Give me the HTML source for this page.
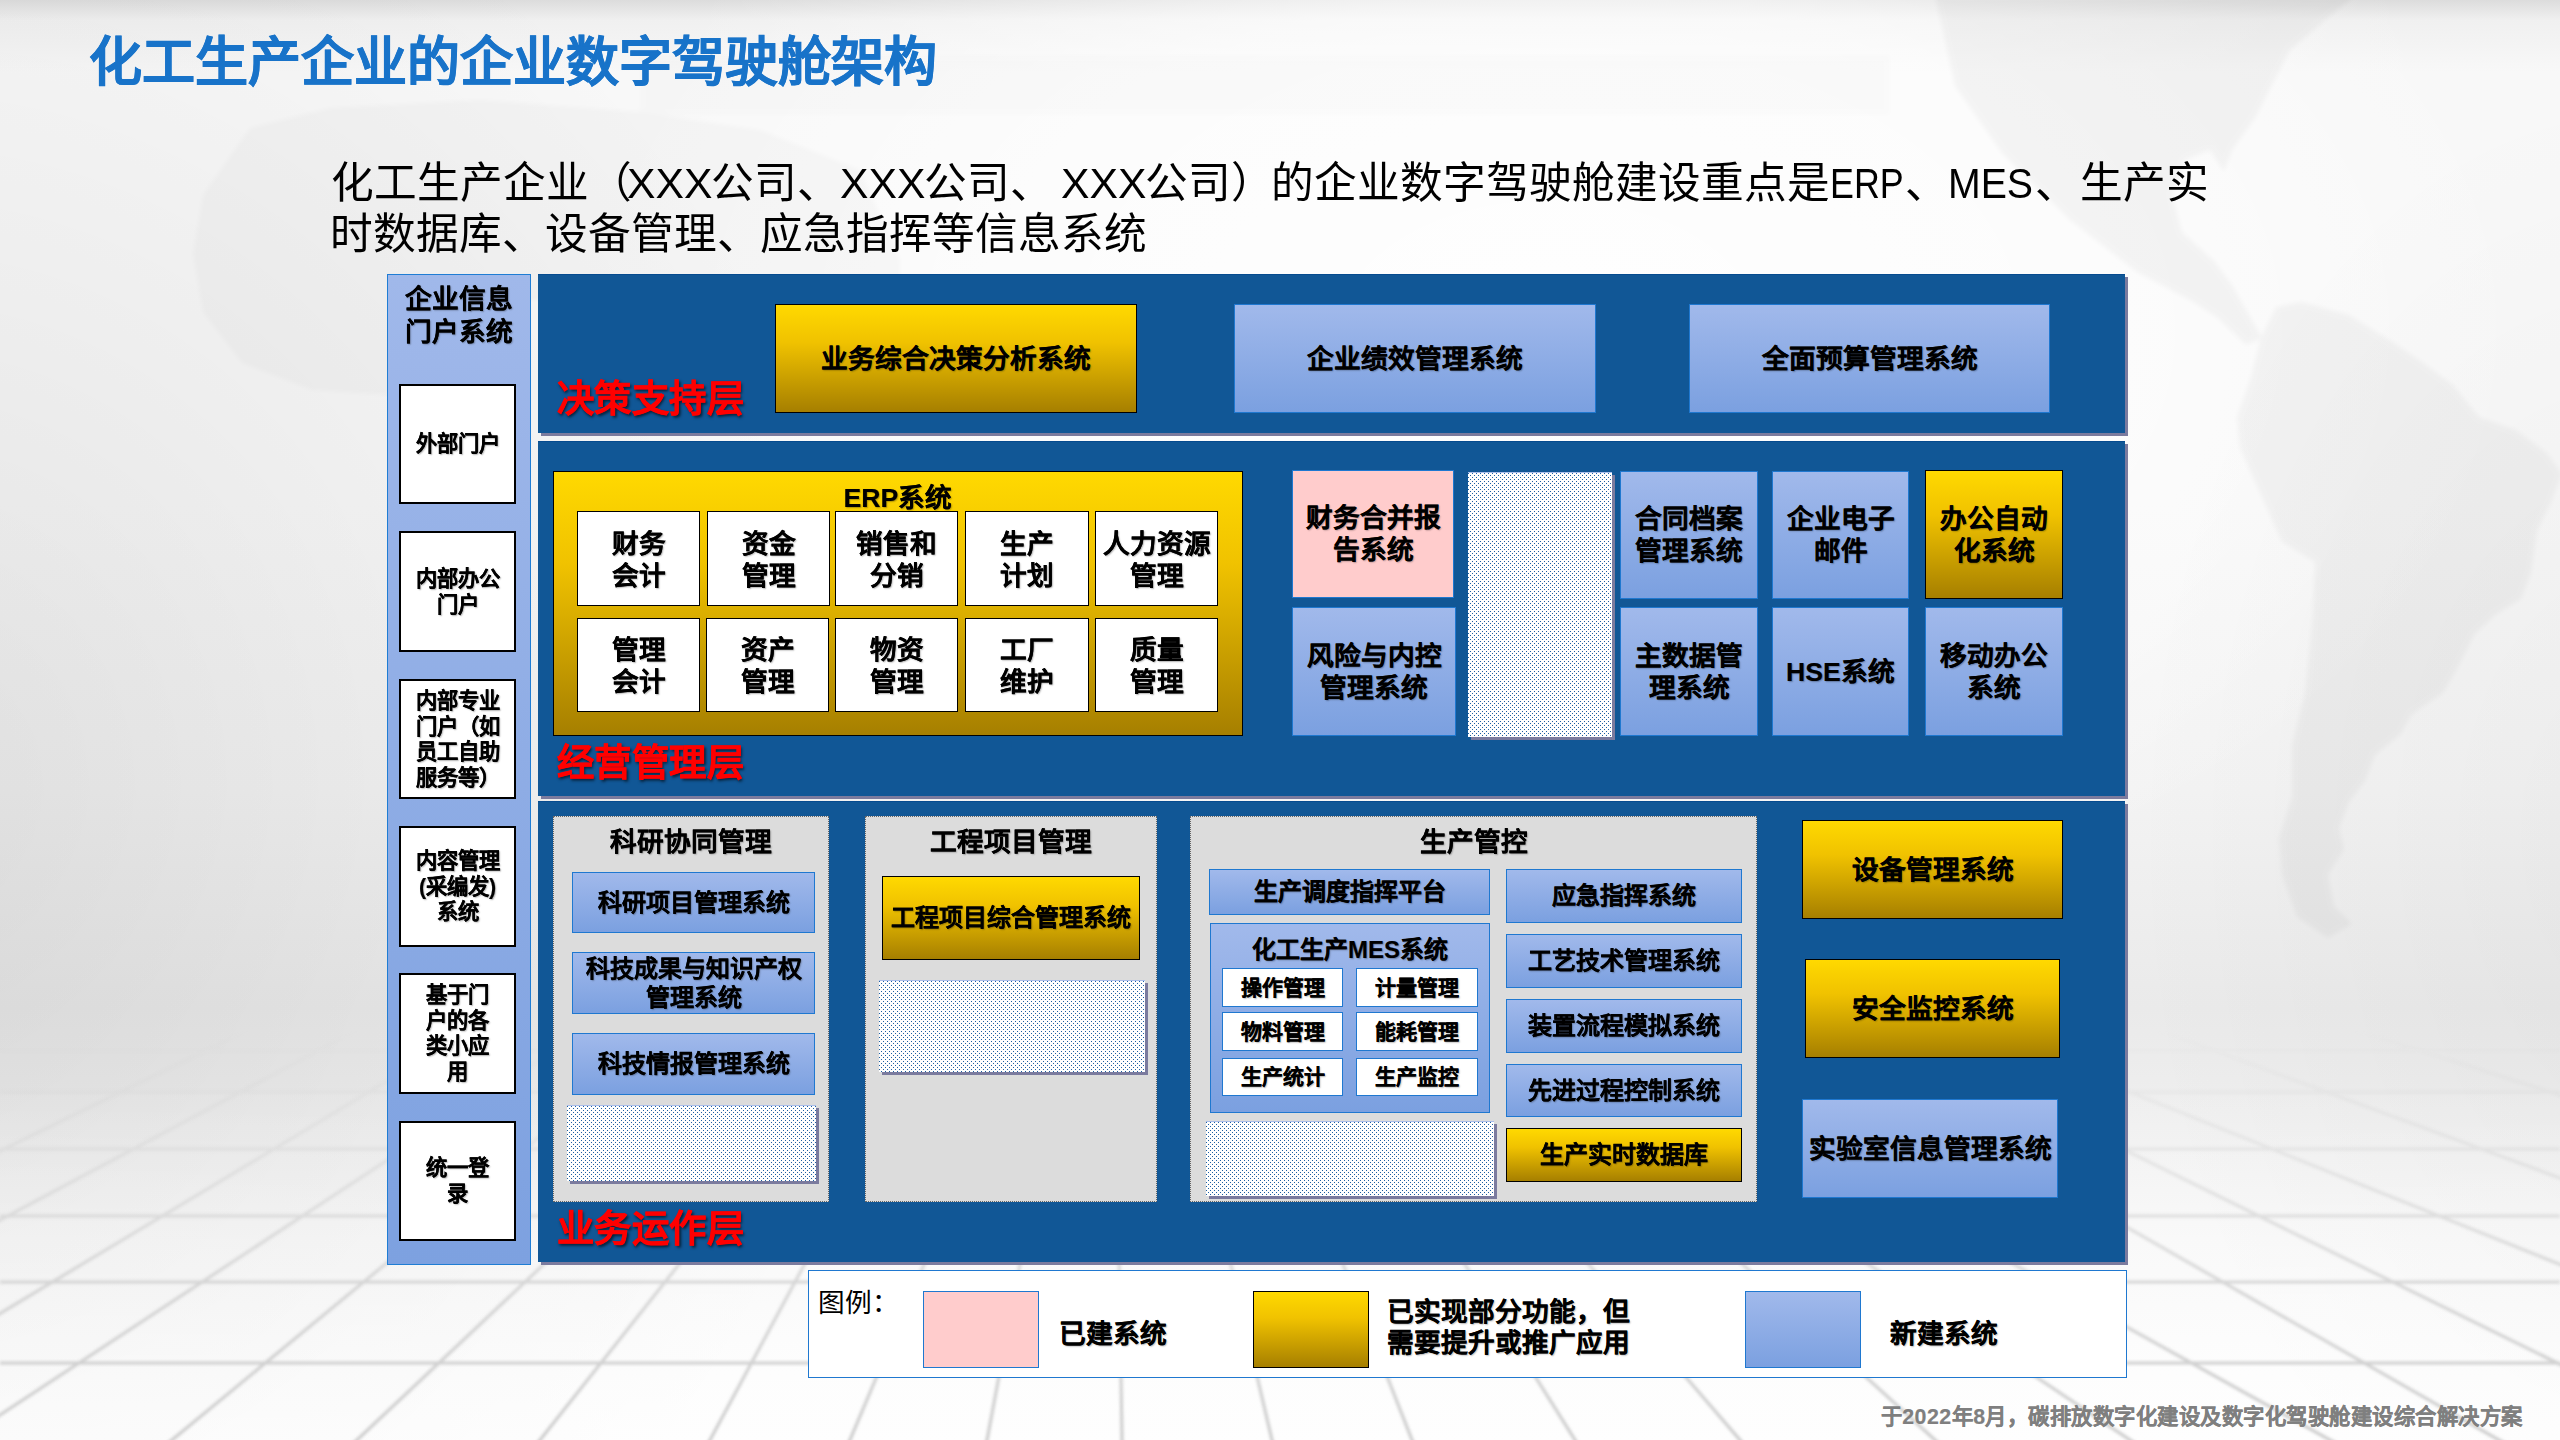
<!DOCTYPE html><html lang="zh-CN"><head><meta charset="utf-8"><title>slide</title><style>
*{margin:0;padding:0;box-sizing:border-box}
html,body{width:2560px;height:1440px;overflow:hidden}
body{position:relative;font-family:"Liberation Sans",sans-serif;color:#000;background:#f2f2f2}
#bg{position:absolute;left:0;top:0;width:2560px;height:1440px;z-index:0}
.b{position:absolute;display:flex;align-items:center;justify-content:center;text-align:center;font-weight:bold;font-size:26.67px;line-height:32px;text-shadow:1px 1px 1.5px rgba(0,0,0,.3);-webkit-text-stroke:.15px #000}
.t{position:absolute;font-weight:bold;white-space:nowrap;text-shadow:1px 1px 1.5px rgba(0,0,0,.3);-webkit-text-stroke:.15px #000}
.panel{background:#115796;border-top:1px solid #064b8f;box-shadow:3px 3px 0 #7b7b9e}
.side{background:linear-gradient(#a0b8ea,#7da1e0);border:1px solid #1f7dd4}
.wb{background:#fff;border:2px solid #000}
.wc{background:#fff;border:1px solid #000}
.wm{background:#fff;border:1px solid #1f78d0}
.y{background:linear-gradient(#ffd900,#f0c200 35%,#a67f00);border:1px solid #000}
.bl{background:linear-gradient(#a1b9eb,#7ba0e0);border:1px solid #1f78d0}
.pk{background:#ffcccc;border:1px solid #1f78d0}
.g{background:#dcdcdc;border:1px dotted #666}
.dot{position:absolute;display:block;box-shadow:3px 3px 0 #7b7b9e}
.sub{font-size:42.67px;line-height:52px;font-weight:normal;text-shadow:none;-webkit-text-stroke:0}
.sub i{display:inline-block;font-style:normal;white-space:pre}
.sub u{display:inline-block;text-decoration:none;transform-origin:0 50%}
.red{color:#ff0000;font-size:37.33px;letter-spacing:.6px;text-shadow:1.5px 1.5px 3px rgba(0,0,0,.65);-webkit-text-stroke:.5px #f00}
</style></head><body>
<svg id="bg" width="2560" height="1440" viewBox="0 0 2560 1440"><defs><linearGradient id="vg" x1="0" y1="0" x2="0" y2="1"><stop offset="0" stop-color="#dcdcdc"/><stop offset="0.014" stop-color="#f0f0f0"/><stop offset="0.05" stop-color="#f8f8f8"/><stop offset="0.35" stop-color="#f8f8f8"/><stop offset="0.55" stop-color="#f3f3f3"/><stop offset="0.70" stop-color="#eaeaea"/><stop offset="0.75" stop-color="#ededed"/><stop offset="0.86" stop-color="#f7f7f7"/><stop offset="1" stop-color="#fdfdfd"/></linearGradient><radialGradient id="rg" gradientUnits="userSpaceOnUse" cx="1550" cy="330" r="1000" gradientTransform="translate(1550 330) scale(1 0.62) translate(-1550 -330)"><stop offset="0" stop-color="#fff" stop-opacity=".9"/><stop offset="0.55" stop-color="#fff" stop-opacity=".6"/><stop offset="1" stop-color="#fff" stop-opacity="0"/></radialGradient><radialGradient id="dl" gradientUnits="userSpaceOnUse" cx="-100" cy="800" r="1000" gradientTransform="translate(-100 800) scale(1 1.05) translate(100 -800)"><stop offset="0" stop-color="#000" stop-opacity=".085"/><stop offset="0.5" stop-color="#000" stop-opacity=".04"/><stop offset="1" stop-color="#000" stop-opacity="0"/></radialGradient><radialGradient id="dr" gradientUnits="userSpaceOnUse" cx="2640" cy="850" r="520" gradientTransform="translate(2640 850) scale(1 1.5) translate(-2640 -850)"><stop offset="0" stop-color="#000" stop-opacity=".035"/><stop offset="1" stop-color="#000" stop-opacity="0"/></radialGradient><linearGradient id="fm" x1="0" y1="1030" x2="0" y2="1440" gradientUnits="userSpaceOnUse"><stop offset="0" stop-color="#fff" stop-opacity="0"/><stop offset="0.3" stop-color="#fff" stop-opacity=".35"/><stop offset="0.65" stop-color="#fff" stop-opacity=".8"/><stop offset="1" stop-color="#fff" stop-opacity="1"/></linearGradient><linearGradient id="fl" x1="0" y1="1080" x2="0" y2="1440" gradientUnits="userSpaceOnUse"><stop offset="0" stop-color="#fff" stop-opacity="0"/><stop offset="1" stop-color="#fff" stop-opacity=".6"/></linearGradient><mask id="mk" maskUnits="userSpaceOnUse" x="0" y="1000" width="2560" height="440"><rect x="0" y="1000" width="2560" height="440" fill="url(#fm)"/></mask><filter id="bl1" x="-5%" y="-5%" width="110%" height="110%"><feGaussianBlur stdDeviation="1.4"/></filter><filter id="bl2" x="-20%" y="-20%" width="140%" height="140%"><feGaussianBlur stdDeviation="2.5"/></filter></defs><rect width="2560" height="1440" fill="url(#vg)"/><rect width="2560" height="1100" fill="url(#rg)"/><rect width="2560" height="1440" fill="url(#dl)"/><rect width="2560" height="1440" fill="url(#dr)"/><g fill="#000" opacity=".032" filter="url(#bl2)"><path d="M2261 338 L2276 307 L2302 302 L2349 315 L2391 341 L2422 362 L2453 385 L2479 417 L2516 430 L2547 453 L2562 474 L2552 500 L2537 531 L2531 573 L2521 599 L2495 615 L2474 635 L2458 667 L2443 693 L2412 714 L2401 734 L2375 755 L2365 781 L2349 802 L2339 828 L2344 849 L2328 875 L2334 906 L2352 924 L2328 938 L2297 917 L2282 875 L2279 838 L2292 797 L2292 745 L2305 693 L2313 614 L2315 562 L2282 542 L2261 495 L2240 448 L2237 417 L2250 380 Z"/><path d="M1935 -5 L2355 -5 L2290 50 L2255 118 L2232 150 L2224 172 L2210 150 L2185 160 L2172 195 L2182 232 L2215 262 L2232 285 L2262 338 L2246 345 L2218 318 L2190 300 L2137 272 L2070 220 L2002 153 L1955 86 Z"/></g><g fill="#000" opacity=".022" filter="url(#bl2)"><path d="M250 128 L330 108 L480 100 L640 112 L760 130 L860 170 L900 260 L900 300 L390 300 L390 395 L312 390 L242 363 L203 312 L193 254 L203 195 Z"/><rect x="640" y="55" width="1250" height="60" opacity=".5"/></g><rect x="0" y="1080" width="2560" height="360" fill="url(#fl)"/><g mask="url(#mk)"><g stroke="#c9c9c9" stroke-width="3" filter="url(#bl1)" fill="none"><line x1="288.9" y1="1010" x2="-653.7" y2="1470"/><line x1="394.2" y1="1010" x2="-469.2" y2="1470"/><line x1="505.4" y1="1010" x2="-260.8" y2="1470"/><line x1="615.6" y1="1010" x2="-83.8" y2="1470"/><line x1="693.5" y1="1010" x2="135.6" y2="1470"/><line x1="814.2" y1="1010" x2="325.1" y2="1470"/><line x1="880.2" y1="1010" x2="516.3" y2="1470"/><line x1="941.3" y1="1010" x2="693.9" y2="1470"/><line x1="1031.5" y1="1010" x2="837.3" y2="1470"/><line x1="1067.6" y1="1010" x2="981.4" y2="1470"/><line x1="1115.2" y1="1010" x2="1122.5" y2="1470"/><line x1="1171.3" y1="1010" x2="1279.0" y2="1470"/><line x1="1243.3" y1="1010" x2="1423.8" y2="1470"/><line x1="1305.6" y1="1010" x2="1593.8" y2="1470"/><line x1="1369.9" y1="1010" x2="1765.8" y2="1470"/><line x1="1464.2" y1="1010" x2="1967.8" y2="1470"/><line x1="1490.4" y1="1010" x2="2174.6" y2="1470"/><line x1="1557.1" y1="1010" x2="2383.9" y2="1470"/><line x1="1747.2" y1="1010" x2="2551.3" y2="1470"/><line x1="1840.6" y1="1010" x2="2774.7" y2="1470"/><line x1="1925.5" y1="1010" x2="3072.8" y2="1470"/><line x1="2104.6" y1="1010" x2="3351.5" y2="1470"/><line x1="2292.9" y1="1010" x2="3738.6" y2="1470"/><line x1="0" y1="1050" x2="2560" y2="1050"/><line x1="0" y1="1092" x2="2560" y2="1092"/><line x1="0" y1="1149" x2="2560" y2="1149"/><line x1="0" y1="1216" x2="2560" y2="1216"/><line x1="0" y1="1282" x2="2560" y2="1282"/><line x1="0" y1="1363" x2="2560" y2="1363"/></g></g></svg>
<svg width="0" height="0" style="position:absolute"><defs><pattern id="dp" width="4" height="4" patternUnits="userSpaceOnUse"><rect x="0" y="1" width="1" height="1" fill="#1d5fa2"/><rect x="2" y="3" width="1" height="1" fill="#1d5fa2"/></pattern></defs></svg>
<div class="t " style="left:88.5px;top:30.5px;width:900px;font-size:53px;text-align:left;line-height:64px;color:#1873c9;text-shadow:none;-webkit-text-stroke:.5px #1873c9;">化工生产企业的企业数字驾驶舱架构</div>
<div class="t sub" style="left:331px;top:156.5px;">化工生产企业（<i style="width:84px;margin-left:-5px">XXX</i>公司、<i style="width:84px">XXX</i>公司、<i style="width:8px"> </i><i style="width:84px">XXX</i>公司）<b style="font-weight:normal;margin-left:-3px">的企业数字驾驶舱建设重点是</b><i style="width:75px"><u style="transform:scaleX(.84)">ERP</u></i>、<i style="width:87px"><u style="transform:scaleX(.92)">MES</u></i>、<b style="font-weight:normal;margin-left:2px">生产实</b></div>
<div class="t sub" style="left:329.5px;top:207.5px;">时数据库、设备管理、应急指挥等信息系统</div>
<div class="b side" style="left:387px;top:274px;width:144px;height:991px;"></div>
<div class="t " style="left:387px;top:283px;width:144px;font-size:26.67px;text-align:center;line-height:32.5px;">企业信息<br>门户系统</div>
<div class="b wb" style="left:399px;top:384px;width:117px;height:120px;font-size:21.33px;line-height:25.5px;"><span style="position:relative;top:1px">外部门户</span></div>
<div class="b wb" style="left:399px;top:531px;width:117px;height:121px;font-size:21.33px;line-height:25.5px;"><span style="position:relative;top:1px">内部办公<br>门户</span></div>
<div class="b wb" style="left:399px;top:679px;width:117px;height:120px;font-size:21.33px;line-height:25.5px;"><span style="position:relative;top:1px">内部专业<br>门户（如<br>员工自助<br>服务等）</span></div>
<div class="b wb" style="left:399px;top:826px;width:117px;height:121px;font-size:21.33px;line-height:25.5px;"><span style="position:relative;top:1px">内容管理<br>(采编发)<br>系统</span></div>
<div class="b wb" style="left:399px;top:973px;width:117px;height:120.5px;font-size:21.33px;line-height:25.5px;"><span style="position:relative;top:1px">基于门<br>户的各<br>类小应<br>用</span></div>
<div class="b wb" style="left:399px;top:1121px;width:117px;height:119.5px;font-size:21.33px;line-height:25.5px;"><span style="position:relative;top:1px">统一登<br>录</span></div>
<div class="b panel" style="left:538px;top:274px;width:1587px;height:159px;"></div>
<div class="b panel" style="left:538px;top:441px;width:1587px;height:355px;"></div>
<div class="b panel" style="left:538px;top:801px;width:1587px;height:461px;"></div>
<div class="t red" style="left:556.5px;top:373.5px;width:200px;font-size:37.33px;text-align:left;line-height:50px;">决策支持层</div>
<div class="b y" style="left:775px;top:304px;width:362px;height:109px;font-size:26.67px;"><span>业务综合决策分析系统</span></div>
<div class="b bl" style="left:1234px;top:304px;width:362px;height:109px;font-size:26.67px;"><span>企业绩效管理系统</span></div>
<div class="b bl" style="left:1689px;top:304px;width:361px;height:109px;font-size:26.67px;"><span>全面预算管理系统</span></div>
<div class="b y" style="left:553px;top:471px;width:690px;height:265px;"></div>
<div class="t " style="left:553px;top:481.5px;width:690px;font-size:26.67px;text-align:center;line-height:32px;">ERP系统</div>
<div class="b wc" style="left:577px;top:511px;width:123px;height:95px;font-size:26.67px;line-height:32px;"><span style="position:relative;top:1px">财务<br>会计</span></div>
<div class="b wc" style="left:707px;top:511px;width:123px;height:95px;font-size:26.67px;line-height:32px;"><span style="position:relative;top:1px">资金<br>管理</span></div>
<div class="b wc" style="left:835px;top:511px;width:123px;height:95px;font-size:26.67px;line-height:32px;"><span style="position:relative;top:1px">销售和<br>分销</span></div>
<div class="b wc" style="left:965px;top:511px;width:124px;height:95px;font-size:26.67px;line-height:32px;"><span style="position:relative;top:1px">生产<br>计划</span></div>
<div class="b wc" style="left:1095px;top:511px;width:123px;height:95px;font-size:26.67px;line-height:32px;"><span style="position:relative;top:1px">人力资源<br>管理</span></div>
<div class="b wc" style="left:577px;top:618px;width:123px;height:94px;font-size:26.67px;line-height:32px;"><span style="position:relative;top:1px">管理<br>会计</span></div>
<div class="b wc" style="left:706px;top:618px;width:123px;height:94px;font-size:26.67px;line-height:32px;"><span style="position:relative;top:1px">资产<br>管理</span></div>
<div class="b wc" style="left:835px;top:618px;width:123px;height:94px;font-size:26.67px;line-height:32px;"><span style="position:relative;top:1px">物资<br>管理</span></div>
<div class="b wc" style="left:965px;top:618px;width:124px;height:94px;font-size:26.67px;line-height:32px;"><span style="position:relative;top:1px">工厂<br>维护</span></div>
<div class="b wc" style="left:1095px;top:618px;width:123px;height:94px;font-size:26.67px;line-height:32px;"><span style="position:relative;top:1px">质量<br>管理</span></div>
<div class="t red" style="left:556.5px;top:738px;width:200px;font-size:37.33px;text-align:left;line-height:50px;">经营管理层</div>
<div class="b pk" style="left:1292px;top:470px;width:162px;height:128px;"><span>财务合并报<br>告系统</span></div>
<div class="b bl" style="left:1292px;top:607px;width:164px;height:129px;"><span>风险与内控<br>管理系统</span></div>
<svg class="dot" style="left:1468px;top:472px" width="144" height="265" shape-rendering="crispEdges"><rect width="144" height="265" fill="#fff"/><rect width="144" height="265" fill="url(#dp)"/><rect width="144" height="1" fill="#a9bdea"/></svg>
<div class="b bl" style="left:1620px;top:471px;width:138px;height:128px;"><span>合同档案<br>管理系统</span></div>
<div class="b bl" style="left:1620px;top:607px;width:138px;height:129px;"><span>主数据管<br>理系统</span></div>
<div class="b bl" style="left:1772px;top:471px;width:137px;height:128px;"><span>企业电子<br>邮件</span></div>
<div class="b bl" style="left:1772px;top:607px;width:137px;height:129px;"><span>HSE系统</span></div>
<div class="b y" style="left:1925px;top:470px;width:138px;height:129px;"><span>办公自动<br>化系统</span></div>
<div class="b bl" style="left:1925px;top:607px;width:138px;height:129px;"><span>移动办公<br>系统</span></div>
<div class="b g" style="left:553px;top:816px;width:276px;height:386px;"></div>
<div class="t " style="left:553px;top:825px;width:276px;font-size:26.67px;text-align:center;line-height:34px;">科研协同管理</div>
<div class="b bl" style="left:572px;top:872px;width:243px;height:61px;font-size:24px;"><span>科研项目管理系统</span></div>
<div class="b bl" style="left:572px;top:952px;width:243px;height:62px;font-size:24px;line-height:29px;"><span>科技成果与知识产权<br>管理系统</span></div>
<div class="b bl" style="left:572px;top:1033px;width:243px;height:62px;font-size:24px;"><span>科技情报管理系统</span></div>
<svg class="dot" style="left:567px;top:1105px" width="249" height="76" shape-rendering="crispEdges"><rect width="249" height="76" fill="#fff"/><rect width="249" height="76" fill="url(#dp)"/><rect width="249" height="1" fill="#a9bdea"/></svg>
<div class="b g" style="left:865px;top:816px;width:292px;height:386px;"></div>
<div class="t " style="left:865px;top:825px;width:292px;font-size:26.67px;text-align:center;line-height:34px;">工程项目管理</div>
<div class="b y" style="left:882px;top:876px;width:258px;height:84px;font-size:24px;"><span>工程项目综合管理系统</span></div>
<svg class="dot" style="left:879px;top:980px" width="266" height="92" shape-rendering="crispEdges"><rect width="266" height="92" fill="#fff"/><rect width="266" height="92" fill="url(#dp)"/><rect width="266" height="1" fill="#a9bdea"/></svg>
<div class="b g" style="left:1190px;top:816px;width:567px;height:386px;"></div>
<div class="t " style="left:1190px;top:825px;width:567px;font-size:26.67px;text-align:center;line-height:34px;">生产管控</div>
<div class="b bl" style="left:1209px;top:869px;width:281px;height:46px;font-size:24px;"><span>生产调度指挥平台</span></div>
<div class="b bl" style="left:1210px;top:923px;width:280px;height:190px;"></div>
<div class="t " style="left:1210px;top:934.5px;width:280px;font-size:24px;text-align:center;line-height:30px;">化工生产MES系统</div>
<div class="b wm" style="left:1222px;top:968px;width:121px;height:39px;font-size:21px;line-height:26px;"><span>操作管理</span></div>
<div class="b wm" style="left:1222px;top:1012px;width:121px;height:39px;font-size:21px;line-height:26px;"><span>物料管理</span></div>
<div class="b wm" style="left:1222px;top:1058px;width:121px;height:38px;font-size:21px;line-height:26px;"><span>生产统计</span></div>
<div class="b wm" style="left:1356px;top:968px;width:122px;height:39px;font-size:21px;line-height:26px;"><span>计量管理</span></div>
<div class="b wm" style="left:1356px;top:1012px;width:122px;height:39px;font-size:21px;line-height:26px;"><span>能耗管理</span></div>
<div class="b wm" style="left:1356px;top:1058px;width:122px;height:38px;font-size:21px;line-height:26px;"><span>生产监控</span></div>
<svg class="dot" style="left:1206px;top:1121px" width="288" height="75" shape-rendering="crispEdges"><rect width="288" height="75" fill="#fff"/><rect width="288" height="75" fill="url(#dp)"/><rect width="288" height="1" fill="#a9bdea"/></svg>
<div class="b bl" style="left:1506px;top:869px;width:236px;height:54px;font-size:24px;"><span>应急指挥系统</span></div>
<div class="b bl" style="left:1506px;top:934px;width:236px;height:54px;font-size:24px;"><span>工艺技术管理系统</span></div>
<div class="b bl" style="left:1506px;top:999px;width:236px;height:54px;font-size:24px;"><span>装置流程模拟系统</span></div>
<div class="b bl" style="left:1506px;top:1064px;width:236px;height:53px;font-size:24px;"><span>先进过程控制系统</span></div>
<div class="b y" style="left:1506px;top:1128px;width:236px;height:54px;font-size:24px;"><span>生产实时数据库</span></div>
<div class="b y" style="left:1802px;top:820px;width:261px;height:99px;font-size:26.67px;"><span>设备管理系统</span></div>
<div class="b y" style="left:1805px;top:959px;width:255px;height:99px;font-size:26.67px;"><span>安全监控系统</span></div>
<div class="b bl" style="left:1802px;top:1099px;width:256px;height:99px;font-size:26.67px;"><span>实验室信息管理系统</span></div>
<div class="t red" style="left:556.5px;top:1203.5px;width:200px;font-size:37.33px;text-align:left;line-height:50px;">业务运作层</div>
<div class="b " style="left:808px;top:1270px;width:1319px;height:108px;background:#fff;border:1px solid #1f78d0;"></div>
<div class="t" style="left:818px;top:1285px;font-family:'Liberation Serif',serif;font-weight:normal;font-size:26.67px;line-height:36px;text-shadow:none;-webkit-text-stroke:0;">图例：</div>
<div class="b pk" style="left:923px;top:1291px;width:116px;height:77px;"></div>
<div class="t " style="left:1059px;top:1316.5px;width:200px;font-size:26.67px;text-align:left;line-height:34px;">已建系统</div>
<div class="b y" style="left:1253px;top:1291px;width:116px;height:77px;"></div>
<div class="t " style="left:1387px;top:1296.5px;width:300px;font-size:26.67px;text-align:left;line-height:31.5px;">已实现部分功能，但<br>需要提升或推广应用</div>
<div class="b bl" style="left:1745px;top:1291px;width:116px;height:77px;"></div>
<div class="t " style="left:1890px;top:1316.5px;width:200px;font-size:26.67px;text-align:left;line-height:34px;">新建系统</div>
<div class="t " style="left:1860px;top:1402.5px;width:663px;font-size:21.33px;text-align:right;line-height:28px;color:#7f7f7f;text-shadow:none;-webkit-text-stroke:.2px #7f7f7f;letter-spacing:.5px;">于2022年8月，碳排放数字化建设及数字化驾驶舱建设综合解决方案</div>
</body></html>
